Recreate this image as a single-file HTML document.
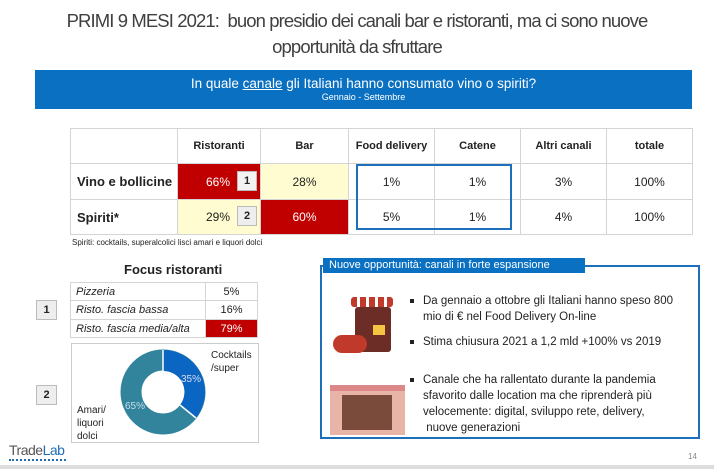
<!DOCTYPE html>
<html><head><meta charset="utf-8"><style>
*{margin:0;padding:0;box-sizing:border-box}
body{width:714px;height:469px;background:#fff;position:relative;overflow:hidden;font-family:"Liberation Sans",sans-serif;color:#222}
.a{position:absolute}
.t{font-size:18.5px;color:#3f3f3f;letter-spacing:-0.9px;text-align:center;width:714px;left:0}
table{border-collapse:collapse;position:absolute}
td{border:1px solid #d4d4d4;text-align:center;font-size:12px;padding:0}
.nb{position:absolute;background:#eee;border:1px solid #bbb;font-weight:bold;font-size:11px;text-align:center}
li{list-style:none;position:relative;padding-left:13px}
li:before{content:"";position:absolute;left:0;top:6px;width:4px;height:4px;background:#222}
</style></head><body>
<div class="a t" style="top:10px">PRIMI 9 MESI 2021:&nbsp; buon presidio dei canali bar e ristoranti, ma ci sono nuove</div>
<div class="a t" style="top:36px">opportunità da sfruttare</div>
<div class="a" style="left:35px;top:70px;width:657px;height:39px;background:#0a70c2;color:#fff;text-align:center">
<div style="font-size:13.5px;margin-top:6px">In quale <u>canale</u> gli Italiani hanno consumato vino o spiriti?</div>
<div style="font-size:9px;margin-top:1px">Gennaio - Settembre</div></div>

<table style="left:70px;top:128px;width:623px">
<tr style="height:35px;font-weight:bold"><td style="width:107px"></td><td style="width:83px;font-weight:bold;font-size:11px">Ristoranti</td><td style="width:88px;font-weight:bold;font-size:11px">Bar</td><td style="width:86px;font-weight:bold;font-size:11px">Food delivery</td><td style="width:86px;font-weight:bold;font-size:11px">Catene</td><td style="width:86px;font-weight:bold;font-size:11px">Altri canali</td><td style="font-weight:bold;font-size:11px">totale</td></tr>
<tr style="height:36px"><td style="font-weight:bold;font-size:13px;text-align:left;padding-left:6px">Vino e bollicine</td><td style="background:#c00000;color:#fff;text-align:left;padding-left:28px">66%</td><td style="background:#fefcd0">28%</td><td>1%</td><td>1%</td><td>3%</td><td>100%</td></tr>
<tr style="height:35px"><td style="font-weight:bold;font-size:13px;text-align:left;padding-left:6px">Spiriti*</td><td style="background:#fefcd0;text-align:left;padding-left:28px">29%</td><td style="background:#c00000;color:#fff">60%</td><td>5%</td><td>1%</td><td>4%</td><td>100%</td></tr>
</table>
<div class="nb" style="left:237px;top:171px;width:20px;height:20px;line-height:18px;background:#f2f2f2">1</div>
<div class="nb" style="left:237px;top:206px;width:20px;height:20px;line-height:18px">2</div>
<div class="a" style="left:356px;top:164px;width:156px;height:66px;border:2px solid #1c6fb8"></div>
<div class="a" style="left:72px;top:238px;font-size:8px">Spiriti: cocktails, superalcolici lisci amari e liquori dolci</div>

<div class="a" style="left:124px;top:262px;font-size:13px;font-weight:bold">Focus ristoranti</div>
<table style="left:70px;top:282px;width:188px;font-style:italic">
<tr style="height:18px"><td style="text-align:left;padding-left:5px;font-size:11px;width:135px">Pizzeria</td><td style="font-style:normal;font-size:11px">5%</td></tr>
<tr style="height:19px"><td style="text-align:left;padding-left:5px;font-size:11px">Risto. fascia bassa</td><td style="font-style:normal;font-size:11px">16%</td></tr>
<tr style="height:18px"><td style="text-align:left;padding-left:5px;font-size:11px">Risto. fascia media/alta</td><td style="font-style:normal;font-size:11px;background:#c00000;color:#fff">79%</td></tr>
</table>
<div class="nb" style="left:36px;top:300px;width:21px;height:20px;line-height:18px">1</div>
<div class="a" style="left:71px;top:343px;width:188px;height:100px;border:1px solid #ccc"></div>
<div class="nb" style="left:36px;top:385px;width:21px;height:20px;line-height:18px">2</div>
<svg class="a" style="left:0;top:0" width="714" height="469">
<circle cx="163" cy="392" r="32" fill="none" stroke="#31849b" stroke-width="21"/>
<path d="M163,350 A42,42 0 0 1 196,418 L180,405 A21,21 0 0 0 163,371 Z" fill="#0b65c2"/>
<line x1="163" y1="350" x2="163" y2="371" stroke="#fff" stroke-width="1.5"/>
<line x1="196" y1="418" x2="180" y2="405" stroke="#fff" stroke-width="1.5"/>
<text x="181" y="382" font-size="10" fill="#dde" font-family="Liberation Sans">35%</text>
<text x="125" y="409" font-size="10" fill="#cde" font-family="Liberation Sans">65%</text>
</svg>
<div class="a" style="left:211px;top:349px;font-size:10px;line-height:13px">Cocktails<br>/super</div>
<div class="a" style="left:77px;top:404px;font-size:10px;line-height:13px">Amari/<br>liquori<br>dolci</div>

<div class="a" style="left:320px;top:265px;width:380px;height:174px;border:2px solid #1c6fb8"></div>
<div class="a" style="left:323px;top:258px;width:262px;height:15px;background:#0a70c2;color:#fff;font-size:11px;padding-left:6px;line-height:15px">Nuove opportunità: canali in forte espansione</div>
<div class="a" style="left:333px;top:295px;width:62px;height:63px">
<div class="a" style="left:18px;top:2px;width:42px;height:10px;background:repeating-linear-gradient(90deg,#c0392b 0 6px,#fff 6px 9px);border-radius:3px"></div>
<div class="a" style="left:22px;top:12px;width:36px;height:45px;background:#6b2d26;border-radius:3px"></div>
<div class="a" style="left:40px;top:30px;width:12px;height:10px;background:#f5c542"></div>
<div class="a" style="left:0;top:40px;width:34px;height:18px;background:#c0392b;border-radius:9px"></div>
</div>
<div class="a" style="left:330px;top:385px;width:75px;height:50px;background:#e8b4a8;border-top:6px solid #d88"></div>
<div class="a" style="left:342px;top:395px;width:50px;height:35px;background:#7a4b3a"></div>
<ul class="a" style="left:410px;top:293px;width:278px;font-size:11.5px;line-height:16px">
<li>Da gennaio a ottobre gli Italiani hanno speso 800 mio di € nel Food Delivery On-line</li>
<li style="margin-top:9px">Stima chiusura 2021 a 1,2 mld +100% vs 2019</li>
<li style="margin-top:22px">Canale che ha rallentato durante la pandemia sfavorito dalle location ma che riprenderà più velocemente: digital, sviluppo rete, delivery,<br>&nbsp;nuove generazioni</li>
</ul>
<div class="a" style="left:9px;top:442px;font-size:14px;color:#555;letter-spacing:-0.5px">Trade<span style="color:#1f6fb8">Lab</span></div>
<div class="a" style="left:9px;top:459px;width:57px;border-top:2px dotted #1f6fb8"></div>
<div class="a" style="left:688px;top:452px;font-size:8px;color:#888">14</div>
<div class="a" style="left:0;top:465px;width:714px;height:4px;background:#ddd"></div>
</body></html>
